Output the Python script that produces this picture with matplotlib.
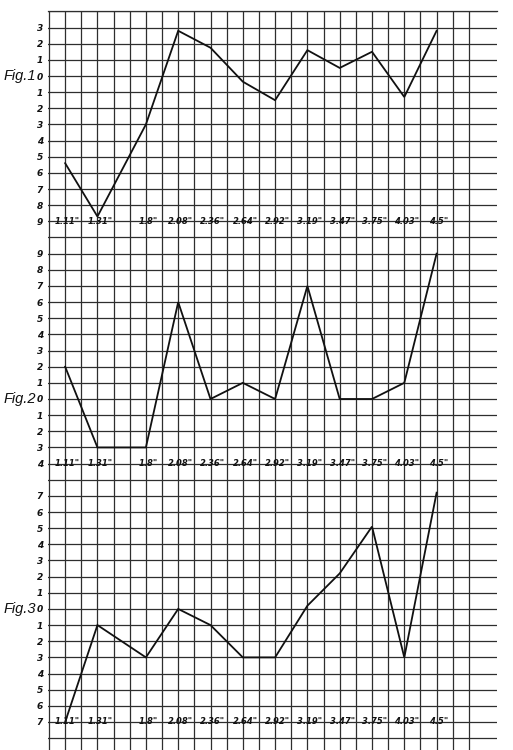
import matplotlib
matplotlib.use("Agg")
import matplotlib.pyplot as plt

# thickness readings, one list per figure (inches on x, deviation on y)
thickness = ['1.11"', '1.31"', '1.8"', '2.08"', '2.36"', '2.64"',
             '2.92"', '3.19"', '3.47"', '3.75"', '4.03"', '4.5"']
# grid column where each reading sits
columns = [1, 3, 6, 8, 10, 12, 14, 16, 18, 20, 22, 24]

fig1_vals = [-5.4, -8.7, -3, 2.8, 1.75, -0.35, -1.5, 1.6, 0.5, 1.5, -1.3, 2.8]
fig2_vals = [2, -3, -3, 6, 0, 1, 0, 7, 0, 0, 1, 9]
fig3_vals = [-7, -1, -3, 0, -1, -3, -3, 0.2, 2.2, 5.1, -3, 7.2]

fig1_labels = list(range(3, -10, -1))
fig2_labels = list(range(9, -5, -1))
fig3_labels = list(range(7, -8, -1))

W, H = 513, 750
cell = 16.15       # grid square in pixels
top = 11.4         # y pixel of the top grid line
left = 49.0        # x pixel of the first vertical line
grid_col = "#2e2e2e"
ink = "#111111"


def row_px(r):
    return top + cell * r


def make_axes(fig, row_top, row_bot, zero_row):
    y0 = 1 - row_px(row_bot) / H
    y1 = 1 - row_px(row_top) / H
    x0 = (left - 0.04 * cell) / W
    x1 = 497 / W
    ax = fig.add_axes([x0, y0, x1 - x0, y1 - y0])
    ax.set_xlim(-0.04, -0.04 + (497 - left + 0.04 * cell) / cell)
    ax.set_ylim(zero_row - row_bot, zero_row - row_top)
    return ax


def draw_panel(ax, vals, labels, name, gridrange):
    ax.set_xticks(range(27))
    ax.set_xticklabels([])
    ax.set_yticks(gridrange)
    ax.set_yticklabels([str(abs(v)) if v in labels else "" for v in gridrange],
                       fontsize=6.5, fontstyle="italic", fontweight="bold", color=ink)
    ax.tick_params(length=0, pad=4)
    ax.grid(True, color=grid_col, lw=0.9)
    ax.set_axisbelow(True)
    for s in ax.spines.values():
        s.set_visible(False)

    ax.plot(columns, vals, color=ink, lw=1.3, solid_joinstyle="miter", zorder=3)

    low = min(labels)
    for c, t in zip(columns, thickness):
        ax.text(c + 0.15, low, t, ha="center", va="center", fontsize=6,
                fontstyle="italic", fontweight="bold", color=ink, zorder=4)

    ax.text(-0.027, 0, name, transform=ax.get_yaxis_transform(), ha="right",
            va="center", fontsize=10.5, fontstyle="italic",
            family="Liberation Sans", color=ink)


fig = plt.figure(figsize=(W / 100, H / 100), dpi=100)

ax1 = make_axes(fig, -0.04, 14.5, 4)
ax2 = make_axes(fig, 14.5, 29.5, 24)
ax3 = make_axes(fig, 29.5, (H - top) / cell, 37)

draw_panel(ax1, fig1_vals, fig1_labels, "Fig.1", list(range(-10, 5)))
draw_panel(ax2, fig2_vals, fig2_labels, "Fig.2", list(range(-5, 10)))
draw_panel(ax3, fig3_vals, fig3_labels, "Fig.3", list(range(-8, 8)))

# top border line of the sheet
ax1.spines["top"].set_visible(True)
ax1.spines["top"].set_color(grid_col)
ax1.spines["top"].set_linewidth(0.9)

fig.savefig("out.png", dpi=100, facecolor="white")
